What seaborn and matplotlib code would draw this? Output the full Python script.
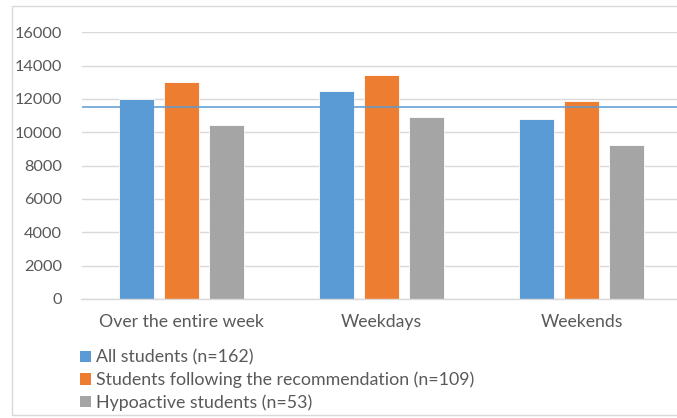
import pandas as pd
import matplotlib.pyplot as plt
import seaborn as sns
from matplotlib.patches import Rectangle, Patch

# 数据
categories = ['Over the entire week', 'Weekdays', 'Weekends']
series_names = ['All students (n=162)',
                'Students following the recommendation (n=109)',
                'Hypoactive students (n=53)']
all_students = [12000, 12450, 10820]
recommended = [13000, 13450, 11850]
hypoactive = [10420, 10900, 9250]
reference_line = 11500

colors = ['#5B9BD5', '#ED7D31', '#A5A5A5']
text_color = '#595959'
grid_color = '#D9D9D9'


def build_frame():
    data = pd.DataFrame({
        'Period': categories,
        series_names[0]: all_students,
        series_names[1]: recommended,
        series_names[2]: hypoactive,
    })
    return data.melt(id_vars='Period', var_name='Group', value_name='Steps')


def plot_steps(data):
    sns.set_style('white')
    plt.rcParams['font.family'] = ['Lato', 'DejaVu Sans']

    fig = plt.figure(figsize=(6.77, 4.18), dpi=100)
    W, H = 677, 418
    # 绘图区 (像素换算)
    ax = fig.add_axes([81.5 / W, (H - 299) / H, 600 / W, 266.7 / H])

    sns.barplot(data=data, x='Period', y='Steps', hue='Group',
                palette=colors, saturation=1, width=0.675, gap=0.222,
                edgecolor='white', linewidth=0.6, ax=ax)

    ax.axhline(reference_line, color='#5B9BD5', linewidth=1.1, zorder=5)

    ax.set_ylim(0, 16000)
    ax.set_xlim(-0.5, 2.5)
    ax.set_yticks(range(0, 16001, 2000))
    ax.yaxis.grid(True, color=grid_color, linewidth=1)
    ax.set_axisbelow(True)
    for side in ['top', 'right', 'left']:
        ax.spines[side].set_visible(False)
    ax.spines['bottom'].set_color(grid_color)
    ax.spines['bottom'].set_linewidth(1)
    ax.tick_params(axis='both', length=0, colors=text_color)
    ax.tick_params(axis='y', labelsize=11.8, pad=14)
    ax.tick_params(axis='x', labelsize=12.7, pad=11)
    ax.set_xlabel('')
    ax.set_ylabel('')

    # 图例
    ax.get_legend().remove()
    handles = [Patch(facecolor=c, edgecolor='none') for c in colors]
    fig.legend(handles, series_names, loc='upper left',
               bbox_to_anchor=(80 / W, 1 - 349.5 / H), frameon=False,
               fontsize=12.8, labelcolor=text_color,
               handlelength=0.62, handleheight=0.62, handletextpad=0.3,
               labelspacing=0.34, borderaxespad=0, borderpad=0)

    # 外边框
    fig.patches.append(Rectangle((12 / W, 3 / H), 0.99, 409 / H,
                                 transform=fig.transFigure, fill=False,
                                 edgecolor=grid_color, linewidth=1))

    fig.savefig('out.png', dpi=100, facecolor='white')


if __name__ == "__main__":
    plot_steps(build_frame())
